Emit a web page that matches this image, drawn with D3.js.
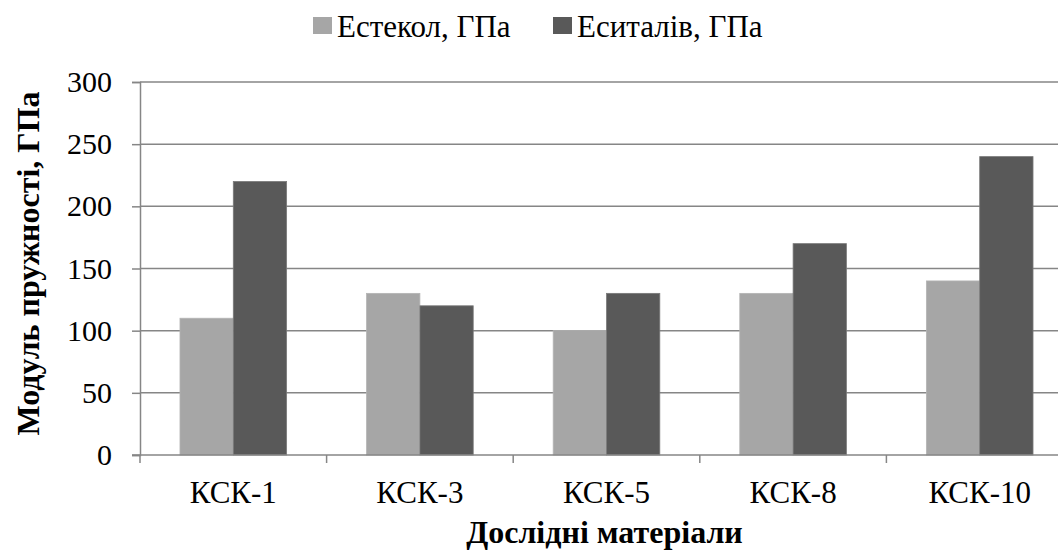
<!DOCTYPE html>
<html>
<head>
<meta charset="utf-8">
<script src="https://cdn.jsdelivr.net/npm/d3@7"></script>
</head>
<body style="margin:0">
<svg id="chart" width="1058" height="554"></svg>
<script>
// Матеріали та модулі пружності (ГПа)
const categories = ["КСК-1", "КСК-3", "КСК-5", "КСК-8", "КСК-10"];
const seriesNames = ["Естекол, ГПа", "Еситалів, ГПа"];
const glassValues = [110, 130, 100, 130, 140];
const sitallValues = [220, 120, 130, 170, 240];
const yTicks = [0, 50, 100, 150, 200, 250, 300];
const colors = ["#a6a6a6", "#595959"];

const svg = d3.select("#chart");
const plot = { left: 140, right: 1073, top: 82, bottom: 455 };

const x0 = d3.scaleBand().domain(categories).range([plot.left, plot.right]).paddingInner(0).paddingOuter(0);
// gap between groups is 150% of a single bar
const groupWidth = x0.bandwidth() * (2 / 3.5);
const x1 = d3.scaleBand().domain(seriesNames).range([0, groupWidth]);
const y = d3.scaleLinear().domain([0, 300]).range([plot.bottom, plot.top]);

const gridColor = "#868686";
const textFont = "Liberation Serif";

// Horizontal gridlines
svg.append("g")
  .selectAll("line")
  .data(yTicks.filter(d => d > 0))
  .join("line")
  .attr("x1", plot.left).attr("x2", plot.right)
  .attr("y1", d => y(d)).attr("y2", d => y(d))
  .attr("stroke", gridColor).attr("stroke-width", 1.5);

// Bars
const rows = categories.map((c, i) => ({ cat: c, vals: [glassValues[i], sitallValues[i]] }));
const groups = svg.append("g").selectAll("g")
  .data(rows)
  .join("g")
  .attr("transform", d => `translate(${x0(d.cat) + (x0.bandwidth() - groupWidth) / 2},0)`);
groups.selectAll("rect")
  .data(d => d.vals.map((v, k) => ({ name: seriesNames[k], v, k })))
  .join("rect")
  .attr("x", d => x1(d.name))
  .attr("width", x1.bandwidth())
  .attr("y", d => y(d.v))
  .attr("height", d => y(0) - y(d.v))
  .attr("fill", d => colors[d.k])
  .attr("stroke", d => d.k === 0 ? "#b4b4b4" : "#7a7a7a")
  .attr("stroke-width", 0.8);

// Y axis
const yAxis = d3.axisLeft(y).tickValues(yTicks).tickSize(8).tickPadding(20);
const gy = svg.append("g").attr("transform", `translate(${plot.left},0)`).call(yAxis);
gy.attr("font-family", textFont).attr("font-size", 30);
gy.select(".domain").attr("stroke", gridColor).attr("stroke-width", 1.5);
gy.selectAll(".tick line").attr("stroke", gridColor).attr("stroke-width", 1.5);
gy.selectAll(".tick text").attr("fill", "#000");

// X axis: ticks on category boundaries
const gx = svg.append("g").attr("transform", `translate(0,${plot.bottom})`)
  .attr("font-family", textFont).attr("font-size", 31);
gx.append("line")
  .attr("x1", plot.left - 8).attr("x2", plot.right)
  .attr("y1", 0).attr("y2", 0)
  .attr("stroke", gridColor).attr("stroke-width", 1.5);
gx.selectAll("line.tk")
  .data(categories.map(c => x0(c)).concat([plot.right]))
  .join("line").attr("class", "tk")
  .attr("x1", d => d).attr("x2", d => d)
  .attr("y1", 0).attr("y2", 8)
  .attr("stroke", gridColor).attr("stroke-width", 1.5);
gx.selectAll("text")
  .data(categories)
  .join("text")
  .attr("x", d => x0(d) + x0.bandwidth() / 2)
  .attr("y", 48)
  .attr("text-anchor", "middle")
  .attr("fill", "#000")
  .text(d => d);

// Axis titles
svg.append("text")
  .attr("x", (plot.left + plot.right) / 2 - 2).attr("y", 543)
  .attr("text-anchor", "middle")
  .attr("font-family", textFont).attr("font-size", 32).attr("font-weight", "bold")
  .text("Дослідні матеріали");
svg.append("text")
  .attr("transform", `translate(39,${(plot.top + plot.bottom) / 2 - 5}) rotate(-90)`)
  .attr("text-anchor", "middle")
  .attr("font-family", textFont).attr("font-size", 32).attr("font-weight", "bold")
  .text("Модуль пружності, ГПа");

// Legend
const legendX = [313, 553];
const legend = svg.append("g").selectAll("g")
  .data(seriesNames)
  .join("g")
  .attr("transform", (d, i) => `translate(${legendX[i]},0)`);
legend.append("rect")
  .attr("x", 0).attr("y", 17).attr("width", 19).attr("height", 17)
  .attr("fill", (d, i) => colors[i]);
legend.append("text")
  .attr("x", 24).attr("y", 37)
  .attr("font-family", textFont).attr("font-size", 31).attr("fill", "#000")
  .text(d => d);
</script>
</body>
</html>
